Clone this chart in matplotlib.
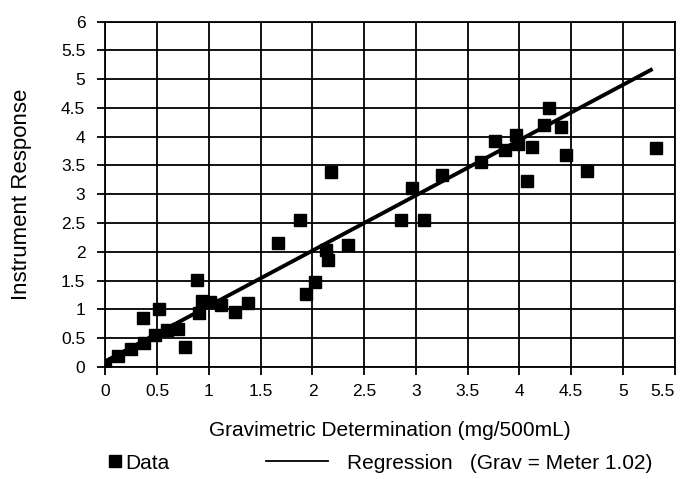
import matplotlib
matplotlib.use("Agg")
import matplotlib.pyplot as plt
from matplotlib.lines import Line2D

plt.rcParams['font.family'] = ['Liberation Sans', 'DejaVu Sans']

# gravimetric determination (mg/500mL) vs instrument response
grav = [0.0, 0.12, 0.25, 0.37, 0.48, 0.59, 0.70, 0.36, 0.52, 0.77,
        0.88, 0.90, 0.93, 1.01, 1.12, 1.25, 1.38, 1.67, 1.88, 1.94,
        2.02, 2.13, 2.15, 2.18, 2.34, 2.86, 2.96, 3.08, 3.25, 3.63,
        3.76, 3.86, 3.97, 3.99, 4.12, 4.07, 4.24, 4.29, 4.40, 4.45,
        4.65, 5.32]
response = [0.02, 0.19, 0.31, 0.42, 0.56, 0.64, 0.66, 0.85, 1.00, 0.35,
            1.51, 0.93, 1.15, 1.13, 1.08, 0.96, 1.11, 2.15, 2.56, 1.27,
            1.48, 2.03, 1.86, 3.39, 2.12, 2.55, 3.10, 2.55, 3.33, 3.56,
            3.92, 3.77, 4.03, 3.88, 3.82, 3.23, 4.21, 4.50, 4.17, 3.68,
            3.40, 3.80]

# regression line end points
reg_x = [0.0, 5.27]
reg_y = [0.10, 5.16]

xticks = [0, 0.5, 1, 1.5, 2, 2.5, 3, 3.5, 4, 4.5, 5, 5.5]
yticks = [0, 0.5, 1, 1.5, 2, 2.5, 3, 3.5, 4, 4.5, 5, 5.5, 6]

fig = plt.figure(figsize=(6.85, 4.79), dpi=100)
ax = fig.add_axes([0.154, 0.234, 0.831, 0.721])

ax.plot(grav, response, 's', color='black', markersize=8.3, zorder=3)
ax.plot(reg_x, reg_y, '-', color='black', linewidth=2.8, zorder=4)

ax.set_xlim(0, 5.5)
ax.set_ylim(0, 6)
ax.set_xticks(xticks)
ax.set_xticklabels([f"{t:g}" for t in xticks])
ax.set_yticks(yticks)
ax.set_yticklabels([f"{t:g}" for t in yticks])
# last x label sits inside the right edge
ax.get_xticklabels()[-1].set_horizontalalignment('right')
ax.grid(True, color='black', linewidth=1.3)
ax.set_axisbelow(True)
for s in ax.spines.values():
    s.set_linewidth(1.3)
ax.tick_params(axis='both', direction='out', length=5.5, width=1.3,
               labelsize=12.5, color='black')
ax.tick_params(axis='x', pad=7)
ax.tick_params(axis='y', pad=9)

ax.set_xlabel("Gravimetric Determination (mg/500mL)", fontsize=15, labelpad=16)
ax.set_ylabel("Instrument Response", fontsize=16, labelpad=21)

data_h = Line2D([], [], marker='s', linestyle='none', color='black', markersize=8)
reg_h = Line2D([], [], linestyle='-', color='black', linewidth=1.3)
fig.legend(handles=[data_h], labels=['Data'], loc='center left',
           bbox_to_anchor=(0.146, 0.033), frameon=False, fontsize=15,
           handlelength=0.6, handletextpad=0.2, borderaxespad=0)
fig.legend(handles=[reg_h], labels=['Regression   (Grav = Meter 1.02)'],
           loc='center left', bbox_to_anchor=(0.376, 0.033), frameon=False,
           fontsize=15, handlelength=3.0, handletextpad=0.9, borderaxespad=0)

fig.savefig("out.png", dpi=100)
